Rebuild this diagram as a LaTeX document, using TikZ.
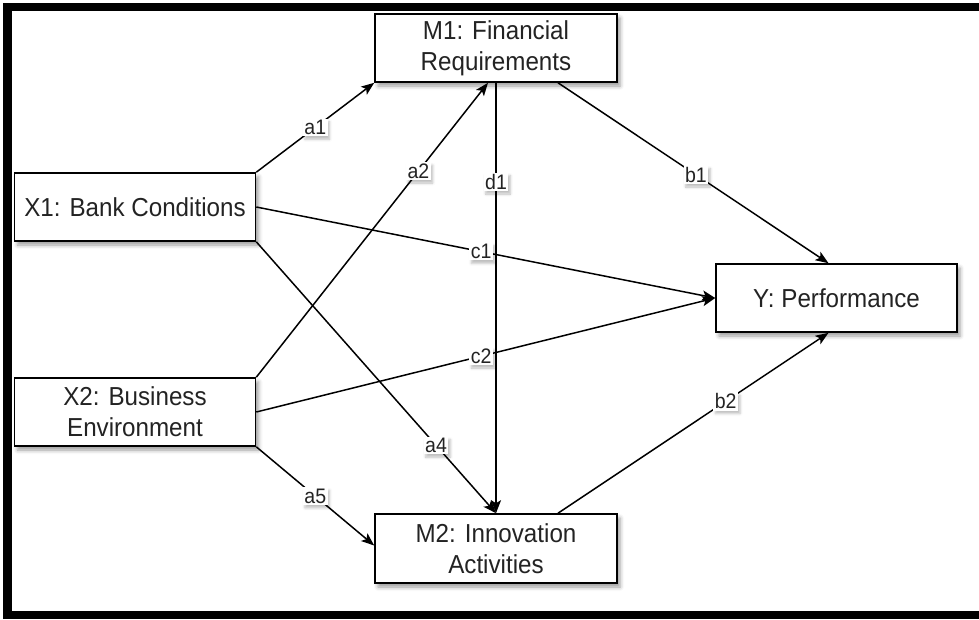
\documentclass[tikz,border=0pt]{standalone}
\usepackage{fontspec}
\setmainfont{Liberation Sans}[FakeStretch=0.93]
\usetikzlibrary{arrows.meta,shadows.blur,calc}

\definecolor{txtgray}{RGB}{35,35,35}

\tikzset{
  varbox/.style={draw=black, line width=1.6pt, fill=white, text=txtgray,
    minimum width=241pt, minimum height=68pt, inner sep=2pt, align=center,
    font=\fontsize{26}{31}\selectfont,
    blur shadow={shadow xshift=3pt, shadow yshift=-4pt, shadow blur radius=4pt,
      shadow opacity=40}},
  semarrow/.style={line width=1.5pt, draw=black,
    -{Stealth[length=13pt,width=10pt,inset=3pt]}},
  coef/.style={fill=white, text=txtgray, inner sep=1.5pt,
    font=\fontsize{21}{24}\selectfont,
    blur shadow={shadow xshift=2pt, shadow yshift=-3pt, shadow blur radius=2.5pt,
      shadow opacity=25}},
  frameline/.style={line width=8.5pt, draw=black}
}

\begin{document}
\begin{tikzpicture}[x=1pt,y=-1pt]
  \useasboundingbox (0,0) rectangle (979,619);

  % outer frame, open on the right
  \coordinate (fr1) at (979,7);
  \coordinate (fr2) at (7.5,7);
  \coordinate (fr3) at (7.5,615);
  \coordinate (fr4) at (979,615);
  \draw[frameline] (fr1) -- (fr2) -- (fr3) -- (fr4);

  % variables
  \node[varbox] (x1) at (135,207) {X1: Bank Conditions};
  \node[varbox] (x2) at (135,412) {X2: Business\\Environment};
  \node[varbox, minimum width=242pt] (m1) at (496,48) {M1: Financial\\Requirements};
  \node[varbox, minimum width=242pt, minimum height=69pt] (m2) at (496,548.5) {M2: Innovation\\Activities};
  \node[varbox] (y) at (836.5,298) {Y: Performance};

  % paths with coefficients
  \draw[semarrow] (x1.north east) -- node[coef, pos=0.5] {a1} (m1.south west);
  \draw[semarrow] (x2.north east) -- node[coef, pos=0.7] {a2} ([xshift=-8pt]m1.south);
  \draw[semarrow] ([xshift=62pt]m1.south) -- node[coef, pos=0.51] {b1} ([xshift=-8pt]y.north);
  \draw[semarrow] (x1.east) -- node[coef, pos=0.49] {c1} (y.west);
  \draw[semarrow] (x2.east) -- node[coef, pos=0.49] {c2} (y.west);
  \draw[semarrow] (x1.south east) -- node[coef, pos=0.75] {a4} (m2.north);
  \draw[semarrow] (x2.south east) -- node[coef, pos=0.5] {a5} ([yshift=3pt]m2.west);
  \draw[semarrow] ([xshift=62pt]m2.north) -- node[coef, pos=0.62] {b2} ([xshift=-8pt]y.south);
  % the vertical path runs over the c1 and c2 labels
  \draw[semarrow] (m1.south) -- node[coef, pos=0.23] {d1} (m2.north);
\end{tikzpicture}
\end{document}
